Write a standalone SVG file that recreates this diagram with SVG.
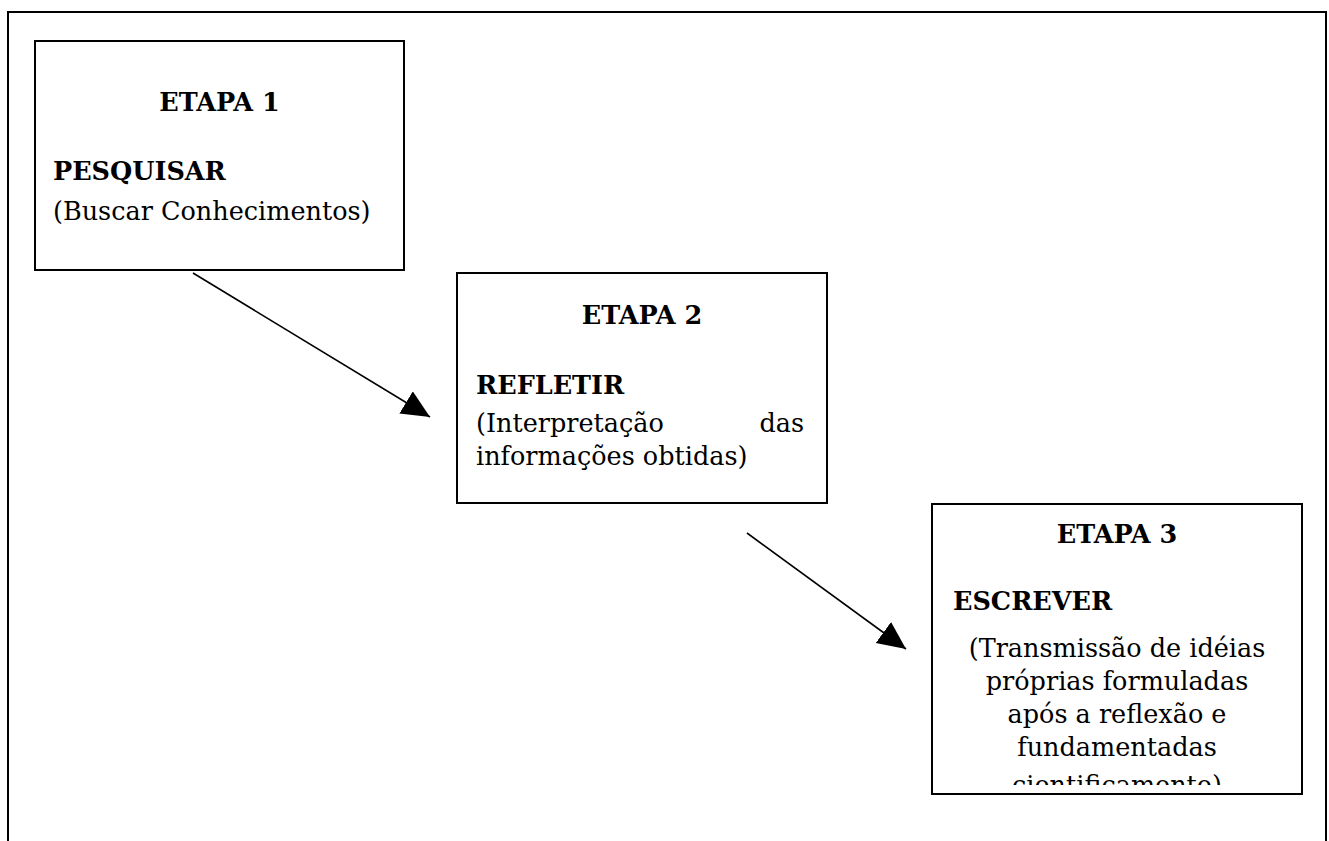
<svg xmlns="http://www.w3.org/2000/svg" width="1329" height="841" viewBox="0 0 1329 841">
<style>
  .box { fill: #ffffff; stroke: #000000; stroke-width: 2; }
  .frame { fill: none; stroke: #000000; stroke-width: 2; }
  .t { font-family: "DejaVu Serif", "Liberation Serif", serif; font-size: 25.5px; fill: #000000; }
  .b { font-weight: bold; }
  .c { text-anchor: middle; }
  .e { text-anchor: end; }
  .conn { stroke: #000000; stroke-width: 1.6; fill: none; marker-end: url(#arrow); }
</style>
<defs>
  <marker id="arrow" markerUnits="userSpaceOnUse" markerWidth="30" markerHeight="28" refX="28" refY="13" orient="auto">
    <path d="M0,0 L28,13 L0,26 z" fill="#000000"/>
  </marker>
  <clipPath id="clip3">
    <rect x="933" y="505" width="368" height="280"/>
  </clipPath>
</defs>
<rect width="1329" height="841" fill="#ffffff"/>
<path class="frame" d="M8,845 V12 H1326 V845"/>
<g id="connectors">
  <line class="conn" x1="193" y1="273" x2="430" y2="417"/>
  <line class="conn" x1="747" y1="533" x2="906" y2="649"/>
</g>
<g id="etapa1">
  <rect class="box" x="35" y="41" width="369" height="229"/>
  <text class="t b c" x="219.5" y="111">ETAPA 1</text>
  <text class="t b" x="53" y="180">PESQUISAR</text>
  <text class="t" x="53" y="220">(Buscar Conhecimentos)</text>
</g>
<g id="etapa2">
  <rect class="box" x="457" y="273" width="370" height="230"/>
  <text class="t b c" x="642" y="324">ETAPA 2</text>
  <text class="t b" x="476" y="394">REFLETIR</text>
  <text class="t" x="476" y="432">(Interpretação</text>
  <text class="t e" x="804" y="432">das</text>
  <text class="t" x="476" y="465">informações obtidas)</text>
</g>
<g id="etapa3">
  <rect class="box" x="932" y="504" width="370" height="290"/>
  <text class="t b c" x="1117" y="543">ETAPA 3</text>
  <text class="t b" x="953" y="610">ESCREVER</text>
  <g clip-path="url(#clip3)">
    <text class="t c" x="1117" y="657">(Transmissão de idéias</text>
    <text class="t c" x="1117" y="690">próprias formuladas</text>
    <text class="t c" x="1117" y="723">após a reflexão e</text>
    <text class="t c" x="1117" y="756">fundamentadas</text>
    <text class="t c" x="1117" y="794">cientificamente)</text>
  </g>
</g>
</svg>
